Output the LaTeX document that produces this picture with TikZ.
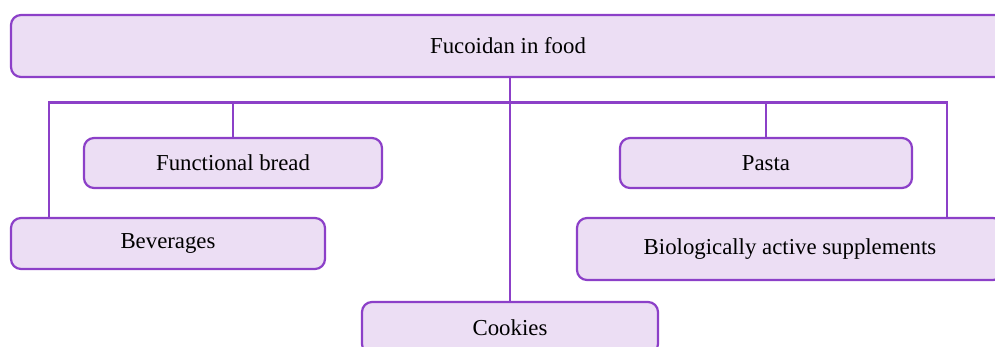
\documentclass[tikz,border=0pt]{standalone}
\usepackage{fontspec}
\setmainfont{Liberation Serif}
\usetikzlibrary{positioning, calc}
\definecolor{boxline}{RGB}{140,64,200}
\definecolor{boxfill}{RGB}{236,222,244}

\tikzset{
    foodbox/.style={draw=boxline, fill=boxfill, line width=2.2pt, rounded corners=10pt,
        inner sep=0pt, font=\fontsize{22.8}{26}\selectfont},
    link/.style={draw=boxline, line width=2.2pt}
}

\begin{document}
\begin{tikzpicture}[x=1pt, y=-1pt]
    \useasboundingbox (0,0) rectangle (995,347);

    % joints of the branch lines
    \coordinate (barL) at (49,102.5);
    \coordinate (barR) at (947,102.5);
    \coordinate (bevjoin) at (49,218);
    \coordinate (biojoin) at (947,218);

    \node[foodbox, minimum width=994pt, minimum height=62pt] (title) at (508,46) {Fucoidan in food};

    \foreach \x/\y/\w/\h/\n/\t in {
        233/163/298/50/bread/Functional bread,
        766/163/292/50/pasta/Pasta,
        168/243.5/314/51/beverages/Beverages,
        790/249/426/62/bio/Biologically active supplements,
        510/328/296/52/cookies/Cookies}
        \node[foodbox, minimum width=\w pt, minimum height=\h pt] (\n) at (\x,\y) {\t};

    \draw[link] (cookies.north |- title.south) -- (cookies.north);
    \draw[link] (bevjoin) -- (barL) -- (barR) -- (biojoin);
    \draw[link] (bread.north) -- (bread.north |- barL);
    \draw[link] (pasta.north) -- (pasta.north |- barL);

\end{tikzpicture}
\end{document}
